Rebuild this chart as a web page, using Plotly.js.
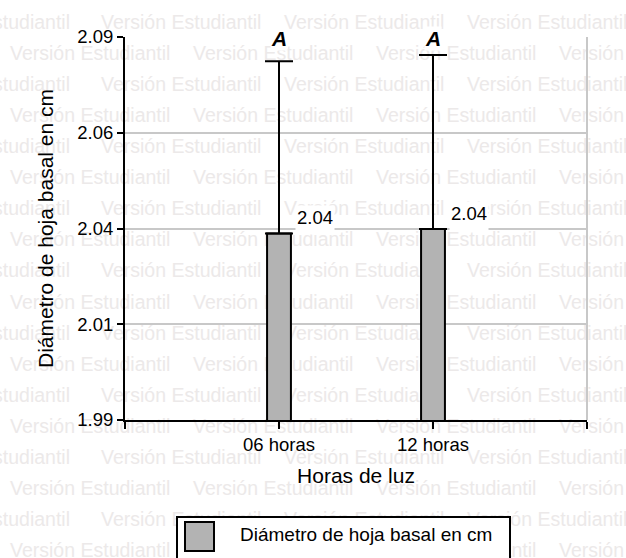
<!DOCTYPE html>
<html>
<head>
<meta charset="utf-8">
<script src="https://cdn.plot.ly/plotly-3.0.1.min.js"></script>
<style>
  html, body { margin: 0; padding: 0; background: #fff; }
  #chart { width: 626px; height: 558px; }
</style>
</head>
<body>
<div id="chart"></div>
<script>
// Mean basal leaf diameter (cm) per photoperiod, with upper error and group letters
const categories = ['06 horas', '12 horas'];
const meanValues = [2.0387, 2.0399];
const upperError = [0.0450, 0.0454];
const groupLetters = ['A', 'A'];
const yTickValues = [1.99, 2.015, 2.04, 2.065, 2.09];
const yTickLabels = ['1.99', '2.01', '2.04', '2.06', '2.09'];
const seriesName = 'Diámetro de hoja basal en cm';
const xTitle = 'Horas de luz';
const watermarkText = 'Versión Estudiantil';

const W = 626, H = 558;
// plot area in pixels
const AREA = { x0: 125, x1: 587, y0: 37, y1: 420 };
// pixel -> paper helpers (figure has no margins, paper == whole figure)
const px = x => x / W;
const py = y => 1 - y / H;

const FONT = '"Liberation Sans", Arial, sans-serif';
const BAR_FILL = '#b3b3b3';
const GRID = '#c8c8c8';
const xPos = categories.map((_, i) => i + 1);

// Tiled background watermark on a full-figure pixel-space axis pair.
// Each copy is anchored at whichever end lies inside the figure so that
// copies running off the left or right edge are still drawn.
const WM_SIZE = 19.5;
const WM_WIDTH = 152;
const wmX = [], wmY = [], wmT = [], wmPos = [];
for (let row = 0; row < 18; row++) {
  const baseline = 29 + row * 31.06;
  const start = row % 2 === 0 ? -82 : 10;
  for (let col = 0; col < 4; col++) {
    const left = start + col * 183;
    if (left < 0) {
      wmX.push(left + WM_WIDTH);
      wmPos.push('middle left');
    } else {
      wmX.push(left);
      wmPos.push('middle right');
    }
    wmY.push(baseline - WM_SIZE * 0.25);
    wmT.push(watermarkText);
  }
}

const watermark = {
  type: 'scatter', mode: 'text',
  x: wmX, y: wmY, text: wmT,
  textposition: wmPos,
  marker: { size: 0 },
  textfont: { family: FONT, size: WM_SIZE, color: '#ece9e9' },
  cliponaxis: false, hoverinfo: 'skip', showlegend: false,
  xaxis: 'x', yaxis: 'y'
};

const bars = {
  type: 'bar',
  name: seriesName,
  x: xPos, y: meanValues,
  width: 0.155,
  marker: { color: BAR_FILL, line: { color: '#000', width: 2 } },
  error_y: {
    type: 'data', symmetric: false,
    array: upperError, arrayminus: upperError.map(() => 0),
    color: '#000', thickness: 2, width: 14
  },
  showlegend: false,
  xaxis: 'x2', yaxis: 'y2'
};

const annotations = [];
categories.forEach((c, i) => {
  annotations.push({
    xref: 'x2', yref: 'y2', x: xPos[i], y: meanValues[i],
    text: meanValues[i].toFixed(2),
    xanchor: 'left', yanchor: 'top', xshift: 16, yshift: 28,
    height: 26, valign: 'top', bgcolor: '#fff', borderpad: 1,
    showarrow: false, font: { family: FONT, size: 18.5, color: '#000' }
  });
  annotations.push({
    xref: 'x2', yref: 'y2 domain', x: xPos[i], y: 1,
    text: '<b><i>' + groupLetters[i] + '</i></b>',
    xanchor: 'center', yanchor: 'middle', yshift: -1,
    bgcolor: '#fff', borderpad: 0,
    showarrow: false, font: { family: FONT, size: 21, color: '#000' }
  });
});
annotations.push({
  xref: 'paper', yref: 'paper', x: px(238), y: py(534),
  text: seriesName, xanchor: 'left', yanchor: 'middle',
  showarrow: false, font: { family: FONT, size: 19, color: '#000' }
});

const shapes = [
  // right edge of the plot frame
  { type: 'line', xref: 'x2 domain', yref: 'y2 domain', x0: 1, x1: 1, y0: 0, y1: 1,
    line: { color: GRID, width: 2 } },
  // legend box and swatch
  { type: 'rect', xref: 'paper', yref: 'paper',
    x0: px(177), x1: px(510), y0: py(517), y1: py(575),
    fillcolor: '#fff', line: { color: '#000', width: 2 } },
  { type: 'rect', xref: 'paper', yref: 'paper',
    x0: px(185), x1: px(214), y0: py(522), y1: py(551),
    fillcolor: BAR_FILL, line: { color: '#000', width: 2 } }
];

const layout = {
  width: W, height: H,
  margin: { l: 0, r: 0, t: 0, b: 0, pad: 0 },
  paper_bgcolor: '#fff', plot_bgcolor: 'rgba(0,0,0,0)',
  showlegend: false, hovermode: false,
  font: { family: FONT, color: '#000' },
  xaxis: { domain: [0, 1], range: [0, W], visible: false, fixedrange: true },
  yaxis: { domain: [0, 1], range: [H, 0], visible: false, fixedrange: true },
  xaxis2: {
    domain: [px(AREA.x0), px(AREA.x1)], anchor: 'y2', side: 'bottom',
    range: [0, 3], tickmode: 'array',
    tickvals: [0, ...xPos, 3], ticktext: ['', ...categories, ''],
    ticks: 'outside', ticklen: 7, tickwidth: 2, tickcolor: '#000',
    showline: true, linecolor: '#000', linewidth: 2,
    showgrid: false, zeroline: false, fixedrange: true,
    tickfont: { family: FONT, size: 18.5, color: '#000' },
    title: { text: xTitle, font: { family: FONT, size: 21, color: '#000' }, standoff: 14 }
  },
  yaxis2: {
    domain: [py(AREA.y1), py(AREA.y0)], anchor: 'x2', side: 'left',
    range: [1.99, 2.09], tickmode: 'array',
    tickvals: yTickValues, ticktext: yTickLabels,
    ticks: 'outside', ticklen: 6, tickwidth: 2, tickcolor: '#000',
    showline: true, linecolor: '#000', linewidth: 2,
    showgrid: true, gridcolor: GRID, gridwidth: 2,
    zeroline: false, fixedrange: true,
    tickfont: { family: FONT, size: 18.5, color: '#000' },
    title: { text: seriesName, font: { family: FONT, size: 21, color: '#000' }, standoff: 18 }
  },
  annotations: annotations,
  shapes: shapes
};

Plotly.newPlot('chart', [watermark, bars], layout, { staticPlot: true, displayModeBar: false });
</script>
</body>
</html>
